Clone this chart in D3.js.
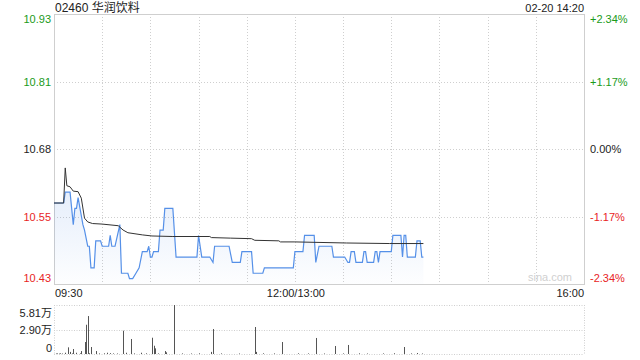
<!DOCTYPE html>
<html>
<head>
<meta charset="utf-8">
<script src="https://cdn.jsdelivr.net/npm/d3@7/dist/d3.min.js"></script>
<style>
	body { margin: 0; background: #fff; }
	text { font-family: "Liberation Sans", Arial, "Noto Sans CJK SC", sans-serif; }
</style>
</head>
<body>
<svg id="chart" width="640" height="360"></svg>
<script>

// stock header
var stockTitle = "02460 华润饮料";
var stampText = "02-20 14:20";

// previous close and price axis ticks
var prevClose = 10.68;
var priceTicks = [10.93, 10.81, 10.68, 10.55, 10.43];
var pctTicks = ["+2.34%", "+1.17%", "0.00%", "-1.17%", "-2.34%"];

// last price, minute points where it changes
var priceTimes = ["09:30", "09:36", "09:37", "09:40", "09:42", "09:43", "09:44", "09:45", "09:48", "09:49",
	"09:51", "09:52", "09:53", "09:55", "09:56", "09:59", "10:00", "10:04", "10:05", "10:06",
	"10:08", "10:11", "10:12", "10:16", "10:17", "10:19", "10:21", "10:23", "10:25", "10:28",
	"10:29", "10:30", "10:31", "10:32", "10:35", "10:36", "10:38", "10:39", "10:44", "10:46",
	"10:59", "11:00", "11:02", "11:07", "11:09", "11:10", "11:19", "11:21", "11:26", "11:27",
	"11:33", "11:34", "11:40", "11:41", "11:59", "13:00", "13:05", "13:06", "13:12", "13:13",
	"13:15", "13:23", "13:24", "13:31", "13:33", "13:34", "13:35", "13:37", "13:38", "13:42",
	"13:43", "13:44", "13:45", "13:49", "13:50", "13:51", "13:52", "13:53", "14:00", "14:01",
	"14:06", "14:07", "14:08", "14:09", "14:10", "14:15", "14:16", "14:18", "14:19", "14:20"];
var prices = [10.58, 10.58, 10.60, 10.60, 10.54, 10.57, 10.57, 10.59, 10.54, 10.53,
	10.50, 10.50, 10.46, 10.46, 10.51, 10.51, 10.50, 10.50, 10.52, 10.50,
	10.50, 10.54, 10.45, 10.45, 10.44, 10.44, 10.45, 10.46, 10.49, 10.49,
	10.50, 10.48, 10.48, 10.49, 10.49, 10.53, 10.53, 10.57, 10.57, 10.48,
	10.48, 10.52, 10.48, 10.48, 10.47, 10.50, 10.50, 10.47, 10.47, 10.49,
	10.49, 10.45, 10.45, 10.46, 10.46, 10.49, 10.49, 10.52, 10.52, 10.47,
	10.50, 10.50, 10.48, 10.48, 10.47, 10.47, 10.49, 10.49, 10.47, 10.47,
	10.49, 10.49, 10.47, 10.47, 10.49, 10.49, 10.47, 10.49, 10.49, 10.52,
	10.52, 10.48, 10.52, 10.52, 10.48, 10.48, 10.51, 10.51, 10.48, 10.48];

// average price line
var avgTimes = ["09:30", "09:36", "09:37", "09:38", "09:40", "09:42", "09:45", "09:47", "09:49", "09:51",
	"09:54", "10:00", "10:10", "10:13", "10:16", "10:25", "10:31", "10:44", "11:07", "11:08",
	"11:20", "11:33", "11:35", "11:50", "11:51", "13:00", "13:32", "13:59", "14:20"];
var avgPrices = [10.58, 10.58, 10.645, 10.612, 10.61, 10.602, 10.601, 10.589, 10.552, 10.545,
	10.542, 10.541, 10.538, 10.530, 10.525, 10.521, 10.519, 10.518, 10.518, 10.516,
	10.515, 10.514, 10.511, 10.510, 10.508, 10.508, 10.506, 10.505, 10.505];

// volume per minute (shares)
var volTimes = ["09:31", "09:32", "09:33", "09:34", "09:35", "09:37", "09:39", "09:40", "09:41", "09:42",
	"09:44", "09:46", "09:47", "09:49", "09:50", "09:51", "09:52", "09:53", "09:56", "09:58",
	"10:01", "10:03", "10:05", "10:07", "10:09", "10:13", "10:15", "10:18", "10:20", "10:24",
	"10:27", "10:31", "10:32", "10:33", "10:35", "10:39", "10:40", "10:45", "10:50", "10:55",
	"11:00", "11:08", "11:09", "11:14", "11:25", "11:35", "11:36", "11:40", "11:47", "11:52",
	"13:02", "13:08", "13:13", "13:18", "13:25", "13:30", "13:33", "13:40", "13:45", "13:55",
	"14:02", "14:08", "14:12", "14:16", "14:19"];
var volumes = [600, 700, 500, 800, 600, 1500, 7900, 2500, 700, 5900,
	1500, 800, 3500, 14200, 34700, 45000, 900, 8300, 3500, 700,
	800, 1500, 1000, 700, 600, 27600, 1500, 17800, 700, 1500,
	800, 19300, 9800, 6700, 700, 3500, 2000, 58100, 700, 600,
	800, 2500, 29600, 700, 600, 32000, 2500, 800, 700, 14200,
	800, 700, 19000, 600, 9500, 700, 10700, 800, 600, 700,
	900, 8300, 700, 1200, 600];
var volTicks = [58100, 29000, 0];
var volTickLabels = ["5.81万", "2.90万", "0"];

// time axis labels
var timeLabels = ["09:30", "12:00/13:00", "16:00"];

// minutes since open, lunch break removed (09:30-12:00, 13:00-16:00)
function minuteIndex(t) {
	var hm = t.split(":"), m = +hm[0] * 60 + +hm[1];
	return m < 12 * 60 + 30 ? m - (9 * 60 + 30) : m - 13 * 60 + 150;
};

var svg = d3.select("#chart");
var pLeft = 54, pRight = 584, pTop = 14, pBottom = 284;
var vTop = 305, vBottom = 354;
var green = "#1a9b1a", red = "#e8251f", gridColor = "#cfcfcf";

var x = d3.scaleLinear().domain([0, 330]).range([pLeft, pRight]);
var y = d3.scaleLinear().domain([prevClose * (1 - 0.0234), prevClose * (1 + 0.0234)]).range([pBottom, pTop]);
var yv = d3.scaleLinear().domain([0, volTicks[0]]).range([vBottom, vTop]);

function tickColor(i) { return i < 2 ? green : (i === 2 ? "#222" : red); };

// title and time stamp
svg.append("text").attr("x", 55).attr("y", 12).attr("font-size", 12).attr("fill", "#222").text(stockTitle);
svg.append("text").attr("x", pRight).attr("y", 12).attr("font-size", 11).attr("text-anchor", "end")
	.attr("fill", "#222").text(stampText);

// price grid: horizontal quarters and vertical every 30 min
var gridG = svg.append("g").attr("stroke", gridColor).attr("stroke-dasharray", "1,2");
d3.range(1, 4).forEach(function (i) {
	var yy = Math.round(pTop + (pBottom - pTop) * i / 4) + 0.5;
	gridG.append("line").attr("x1", pLeft).attr("x2", pRight).attr("y1", yy).attr("y2", yy);
});
d3.range(30, 330, 30).forEach(function (m) {
	var xx = Math.round(x(m)) + 0.5;
	gridG.append("line").attr("x1", xx).attr("x2", xx).attr("y1", pTop).attr("y2", pBottom);
});
svg.append("rect").attr("x", pLeft + 0.5).attr("y", pTop + 0.5).attr("width", pRight - pLeft).attr("height", pBottom - pTop)
	.attr("fill", "none").attr("stroke", gridColor);

// watermark
svg.append("text").attr("x", 572).attr("y", 281).attr("font-size", 11).attr("text-anchor", "end")
	.attr("fill", "#d0d0d0").text("sina.com");

// price axis labels, left and right
priceTicks.forEach(function (p, i) {
	var yy = pTop + (pBottom - pTop) * i / 4;
	var base = i === 0 ? yy + 9 : (i === 4 ? yy - 2 : yy + 4);
	svg.append("text").attr("x", 51).attr("y", base).attr("font-size", 11).attr("text-anchor", "end")
		.attr("fill", tickColor(i)).text(p.toFixed(2));
	svg.append("text").attr("x", 590).attr("y", base).attr("font-size", 11)
		.attr("fill", tickColor(i)).text(pctTicks[i]);
});

// price area and lines
var priceData = priceTimes.map(function (t, i) { return { m: minuteIndex(t), v: prices[i] }; });
var avgData = avgTimes.map(function (t, i) { return { m: minuteIndex(t), v: avgPrices[i] }; });

var grad = svg.append("defs").append("linearGradient").attr("id", "fillGrad")
	.attr("x1", 0).attr("x2", 0).attr("y1", 0).attr("y2", 1);
grad.append("stop").attr("offset", "0%").attr("stop-color", "#3f7fe0").attr("stop-opacity", 0.13);
grad.append("stop").attr("offset", "100%").attr("stop-color", "#3f7fe0").attr("stop-opacity", 0.01);

svg.append("path").datum(priceData)
	.attr("fill", "url(#fillGrad)")
	.attr("d", d3.area().x(function (d) { return x(d.m); }).y0(pBottom).y1(function (d) { return y(d.v); }));
svg.append("path").datum(priceData)
	.attr("fill", "none").attr("stroke", "#5590e8").attr("stroke-width", 1.2)
	.attr("d", d3.line().x(function (d) { return x(d.m); }).y(function (d) { return y(d.v); }));
svg.append("path").datum(avgData)
	.attr("fill", "none").attr("stroke", "#333").attr("stroke-width", 1)
	.attr("d", d3.line().x(function (d) { return x(d.m); }).y(function (d) { return y(d.v); }));

// time labels
svg.append("text").attr("x", 55).attr("y", 297).attr("font-size", 11).attr("fill", "#222").text(timeLabels[0]);
svg.append("text").attr("x", x(150) + 1).attr("y", 297).attr("font-size", 11).attr("text-anchor", "middle")
	.attr("fill", "#222").text(timeLabels[1]);
svg.append("text").attr("x", pRight).attr("y", 297).attr("font-size", 11).attr("text-anchor", "end")
	.attr("fill", "#222").text(timeLabels[2]);

// volume panel
var volG = svg.append("g").attr("stroke", gridColor).attr("stroke-dasharray", "1,1.5").attr("fill", "none");
[vTop, (vTop + vBottom) / 2, vBottom].forEach(function (yy) {
	volG.append("line").attr("x1", pLeft).attr("x2", pRight).attr("y1", Math.round(yy) + 0.5).attr("y2", Math.round(yy) + 0.5);
});
[pLeft, pRight].forEach(function (xx) {
	volG.append("line").attr("x1", xx + 0.5).attr("x2", xx + 0.5).attr("y1", vTop).attr("y2", vBottom);
});

volTickLabels.forEach(function (lbl, i) {
	var base = i === 0 ? vTop + 12 : (i === 2 ? vBottom - 2 : (vTop + vBottom) / 2 + 4);
	svg.append("text").attr("x", 52).attr("y", base).attr("font-size", 11).attr("text-anchor", "end")
		.attr("fill", "#222").text(lbl);
});

svg.append("g").selectAll("line").data(volTimes).join("line")
	.attr("x1", function (t) { return Math.round(x(minuteIndex(t))) + 0.5; })
	.attr("x2", function (t) { return Math.round(x(minuteIndex(t))) + 0.5; })
	.attr("y1", vBottom)
	.attr("y2", function (t, i) { return yv(volumes[i]); })
	.attr("stroke", "#555").attr("stroke-width", 1);

</script>
</body>
</html>
